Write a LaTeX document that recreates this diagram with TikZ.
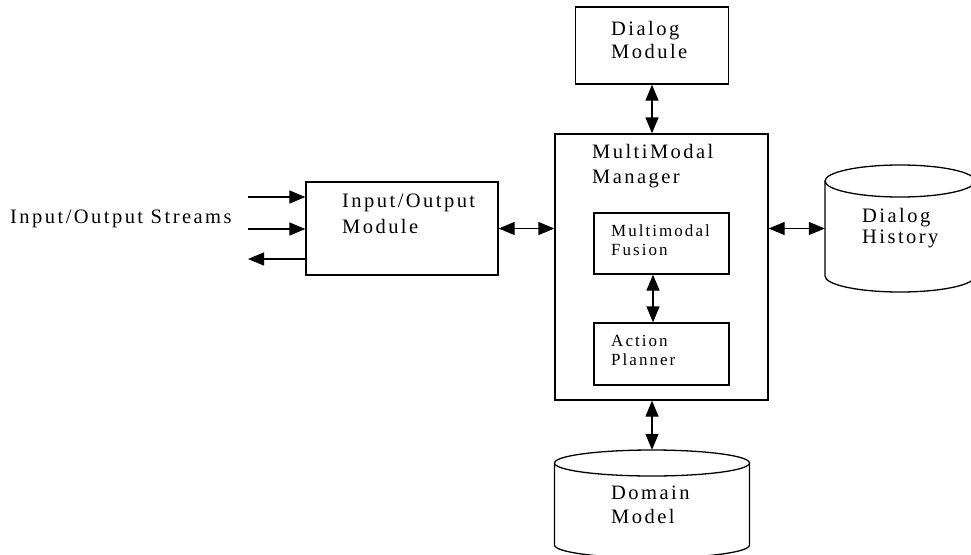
\documentclass[tikz,border=0pt]{standalone}
\usepackage{fontspec}
\setmainfont{Liberation Serif}[LetterSpace=12]
\usetikzlibrary{arrows.meta}
\begin{document}
\begin{tikzpicture}[x=1pt,y=-1pt,
  box/.style={draw, line width=1.3pt, inner sep=0pt},
  lbl/.style={anchor=base west, inner sep=0pt, font=\fontsize{20.5}{24}\selectfont},
  slbl/.style={anchor=base west, inner sep=0pt, font=\fontsize{17}{20}\selectfont},
  link/.style={line width=1.3pt, {Triangle[length=16pt,width=13pt]}-{Triangle[length=16pt,width=13pt]}},
  oneway/.style={line width=1.3pt, -{Triangle[length=16pt,width=13pt]}},
  cyl/.style={line width=1.3pt}
  ]
\useasboundingbox (0,0) rectangle (971,554);
\clip (0,0) rectangle (971,554);

% boxes
\node[box, minimum width=153pt, minimum height=77pt] (dm) at (652,45.5) {};
\node[box, minimum width=213pt, minimum height=266pt] (mm) at (661.5,267) {};
\node[box, minimum width=135pt, minimum height=61pt] (fus) at (661.5,243.5) {};
\node[box, minimum width=135pt, minimum height=62pt] (pl) at (661.5,354) {};
\node[box, minimum width=192pt, minimum height=93pt] (io) at (402,228.5) {};

% cylinders
\node[inner sep=0pt, minimum width=150pt, minimum height=127pt] (dh) at (900,228.5) {};
\draw[cyl] (900,181) ellipse [x radius=75, y radius=16];
\draw[cyl] (825,181) -- (825,276) arc (180:0:75 and 16) -- (975,181);
\node[inner sep=0pt, minimum width=195pt, minimum height=108pt] (dom) at (652,504) {};
\draw[cyl] (652,463) ellipse [x radius=97.5, y radius=13];
\draw[cyl] (554.5,463) -- (554.5,545) arc (180:0:97.5 and 13) -- (749.5,463);

% labels
\node[lbl] (t1) at (611,35) {Dialog};
\node[lbl] (t2) at (611,58) {Module};
\node[lbl] (t3) at (592,158) {MultiModal};
\node[lbl] (t4) at (592,183) {Manager};
\node[slbl] (t5) at (611,236) {Multimodal};
\node[slbl] (t6) at (611,255) {Fusion};
\node[slbl] (t7) at (611,346) {Action};
\node[slbl] (t8) at (611,365) {Planner};
\node[lbl] (t9) at (342,207) {Input/Output};
\node[lbl] (t10) at (342,233) {Module};
\node[lbl] (t11) at (862,222) {Dialog};
\node[lbl] (t12) at (862,243) {History};
\node[lbl] (t13) at (611,499) {Domain};
\node[lbl] (t14) at (611,523) {Model};
\node[lbl] (t15) at (10,223) {Input/Output Streams};

% connectors
\coordinate (in1) at (248,197);
\coordinate (in2) at (248,229);
\coordinate (out1) at (248,259);
\draw[oneway] (in1) -- (in1 -| io.west);
\draw[oneway] (in2) -- (in2 -| io.west);
\draw[oneway] (out1 -| io.west) -- (out1);
\draw[link] (io.east) -- (io.east -| mm.west);
\draw[link] (mm.east |- dh.west) -- (dh.west);
\draw[link] (dm.south) -- (dm.south |- mm.north);
\draw[link] ([xshift=-8.5pt]fus.south) -- ([xshift=-8.5pt]pl.north);
\draw[link] (dom.north |- mm.south) -- (dom.north);
\end{tikzpicture}
\end{document}
